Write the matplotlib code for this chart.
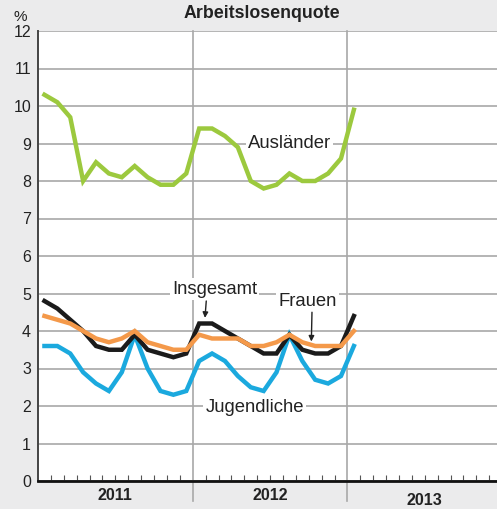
import matplotlib
matplotlib.use("Agg")
import matplotlib.pyplot as plt
import numpy as np

plt.rcParams["font.family"] = ["Liberation Sans", "DejaVu Sans"]

# monthly values Jan 2011 .. Jan 2013
auslaender = [10.3, 10.1, 9.7, 8.0, 8.5, 8.2, 8.1, 8.4, 8.1, 7.9, 7.9, 8.2,
              9.4, 9.4, 9.2, 8.9, 8.0, 7.8, 7.9, 8.2, 8.0, 8.0, 8.2, 8.6,
              9.9]
insgesamt = [4.8, 4.6, 4.3, 4.0, 3.6, 3.5, 3.5, 3.9, 3.5, 3.4, 3.3, 3.4,
             4.2, 4.2, 4.0, 3.8, 3.6, 3.4, 3.4, 3.9, 3.5, 3.4, 3.4, 3.6,
             4.4]
frauen = [4.4, 4.3, 4.2, 4.0, 3.8, 3.7, 3.8, 4.0, 3.7, 3.6, 3.5, 3.5,
          3.9, 3.8, 3.8, 3.8, 3.6, 3.6, 3.7, 3.9, 3.7, 3.6, 3.6, 3.6,
          4.0]
jugendliche = [3.6, 3.6, 3.4, 2.9, 2.6, 2.4, 2.9, 3.9, 3.0, 2.4, 2.3, 2.4,
               3.2, 3.4, 3.2, 2.8, 2.5, 2.4, 2.9, 3.9, 3.2, 2.7, 2.6, 2.8,
               3.6]
years = ["2011", "2012", "2013"]

GREEN = "#9cc93e"
BLACK = "#1b1b1b"
ORANGE = "#f4994a"
BLUE = "#1ba9de"
GRID = "#a8a8a8"
BG = "#ebebec"

x = np.arange(len(auslaender)) + 0.5

fig = plt.figure(figsize=(4.97, 5.09), dpi=100, facecolor=BG)
ax = fig.add_axes([38 / 497, 28 / 509, 1 - 38 / 497, 450 / 509])
ax.set_facecolor("white")

ax.set_xlim(0, 35.6)
ax.set_ylim(0, 12)
ax.set_yticks(range(0, 13))
ax.yaxis.grid(True, color=GRID, linewidth=1.2)
ax.set_axisbelow(True)

for b in (12, 24):
    ax.axvline(b, ymin=-0.045, ymax=1, color=GRID, linewidth=1.2,
               clip_on=False, zorder=1)

ax.set_xticks([m for m in range(1, 36) if m % 12 != 0], minor=True)
ax.set_xticks([])
ax.tick_params(axis="x", which="minor", direction="in", length=4,
               width=0.8, color="#555555")
ax.tick_params(axis="y", length=0, pad=5, labelsize=11.5, labelcolor="#222222")

for s in ("top", "right"):
    ax.spines[s].set_visible(False)
ax.spines["left"].set_color("#444444")
ax.spines["left"].set_linewidth(1.4)
ax.spines["bottom"].set_color("#111111")
ax.spines["bottom"].set_linewidth(2)

lw = 3.2
ax.plot(x, auslaender, color=GREEN, lw=lw, solid_joinstyle="miter", zorder=3)
ax.plot(x, jugendliche, color=BLUE, lw=lw, solid_joinstyle="miter", zorder=3)
ax.plot(x, frauen, color=ORANGE, lw=lw, solid_joinstyle="miter", zorder=4)
ax.plot(x, insgesamt, color=BLACK, lw=lw, solid_joinstyle="miter", zorder=3)

lbl = dict(fontsize=13.3, color="#222222", ha="center", va="center", zorder=5)
box = dict(facecolor="white", edgecolor="none", pad=1.5)
ax.text(19.5, 9.0, "Ausländer", bbox=box, **lbl)
ax.text(13.7, 5.12, "Insgesamt", bbox=box, **lbl)
ax.text(20.9, 4.8, "Frauen", bbox=box, **lbl)
ax.text(16.8, 1.95, "Jugendliche", bbox=box, **lbl)

arrow = dict(arrowstyle="-|>", color="#222222", lw=1, mutation_scale=8,
             shrinkA=0, shrinkB=0)
ax.annotate("", xy=(12.95, 4.35), xytext=(13.05, 4.8), arrowprops=arrow,
            zorder=6)
ax.annotate("", xy=(21.2, 3.72), xytext=(21.25, 4.5), arrowprops=arrow,
            zorder=6)

fig.text(262 / 497, 1 - 13 / 509, "Arbeitslosenquote", fontsize=12.8,
         fontweight="bold", ha="center", va="center", color="#222222")
fig.text(20 / 497, 1 - 17 / 509, "%", fontsize=11, ha="center",
         va="center", color="#222222")

for i, yr in enumerate(years):
    yoff = 0 if i < 2 else 5
    ax.text(6 + 12 * i, -0.38 - yoff / 37.5, yr, fontsize=11.5,
            fontweight="bold", ha="center", va="center", color="#222222",
            clip_on=False)

fig.savefig("out.png", dpi=100, facecolor=BG)
